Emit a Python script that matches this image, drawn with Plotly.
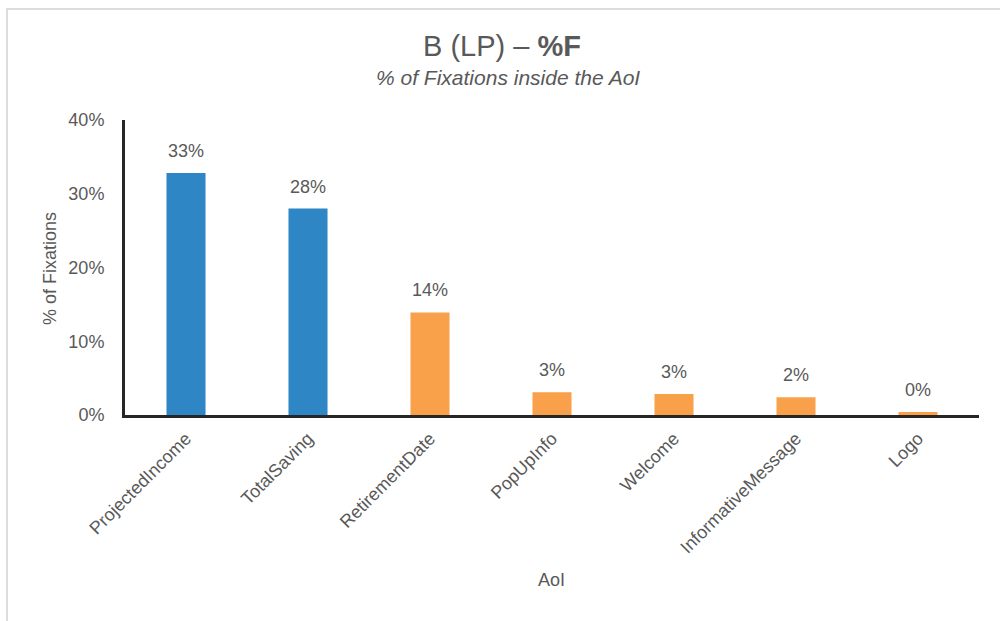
import plotly.graph_objects as go

# AoI categories and share of fixations (%)
categories = ["ProjectedIncome", "TotalSaving", "RetirementDate", "PopUpInfo",
              "Welcome", "InformativeMessage", "Logo"]
values = [32.8, 28.0, 13.9, 3.1, 2.85, 2.4, 0.4]
groups = ["key", "key", "other", "other", "other", "other", "other"]
y_ticks = [0, 10, 20, 30, 40]

palette = {"key": "#2E86C5", "other": "#F8A04A"}
bar_colors = [palette[g] for g in groups]

W, H = 1000, 621
L, R, T, B = 125, 21, 120, 206
pw, ph = W - L - R, H - T - B


def px_x(x):
    return (x - L) / pw


def px_y(y):
    return (H - B - y) / ph


font = "Liberation Sans, Arial, sans-serif"
grey = "#595959"

fig = go.Figure(go.Bar(
    x=categories, y=values,
    marker=dict(color=bar_colors, line=dict(width=0)),
    width=0.32, hoverinfo="x+y",
))

annotations = []
for c, v in zip(categories, values):
    annotations.append(dict(
        x=c, y=v, xref="x", yref="y", text=f"{round(v):d}%", showarrow=False,
        yanchor="bottom", yshift=10, font=dict(family=font, size=18, color=grey),
    ))

annotations += [
    dict(x=px_x(502), y=px_y(46), xref="paper", yref="paper", showarrow=False,
         text="B (LP) – <b>%F</b>", font=dict(family=font, size=29, color=grey),
         xanchor="center", yanchor="middle"),
    dict(x=px_x(508), y=px_y(77), xref="paper", yref="paper", showarrow=False,
         text="<i>% of Fixations inside the AoI</i>",
         font=dict(family=font, size=21, color=grey),
         xanchor="center", yanchor="middle"),
    dict(x=px_x(50), y=px_y(269), xref="paper", yref="paper", showarrow=False,
         text="% of Fixations", textangle=-90,
         font=dict(family=font, size=18, color=grey),
         xanchor="center", yanchor="middle"),
    dict(x=px_x(551), y=px_y(580), xref="paper", yref="paper", showarrow=False,
         text="AoI", font=dict(family=font, size=18, color=grey),
         xanchor="center", yanchor="middle"),
]

fig.update_layout(
    width=W, height=H,
    margin=dict(l=L, r=R, t=T, b=B, autoexpand=False),
    paper_bgcolor="white", plot_bgcolor="white",
    showlegend=False, bargap=0.68,
    annotations=annotations,
    shapes=[dict(type="rect", xref="paper", yref="paper",
                 x0=px_x(7), y0=px_y(700), x1=px_x(1100), y1=px_y(9),
                 line=dict(color="#DCDCDC", width=2), fillcolor="rgba(0,0,0,0)",
                 layer="below")],
    xaxis=dict(
        showgrid=False, zeroline=False, showline=True, linecolor="#262626",
        linewidth=3, tickangle=-45, ticks="outside", ticklen=3,
        tickcolor="rgba(0,0,0,0)",
        tickfont=dict(family=font, size=18, color=grey),
    ),
    yaxis=dict(
        range=[0, 40], tickvals=y_ticks, ticktext=[f"{t}%" for t in y_ticks],
        showgrid=False, zeroline=False, showline=True, linecolor="#262626",
        linewidth=3, ticks="outside", ticklen=14, tickcolor="rgba(0,0,0,0)",
        tickfont=dict(family=font, size=18, color=grey),
    ),
)

fig.write_html("out.html")
